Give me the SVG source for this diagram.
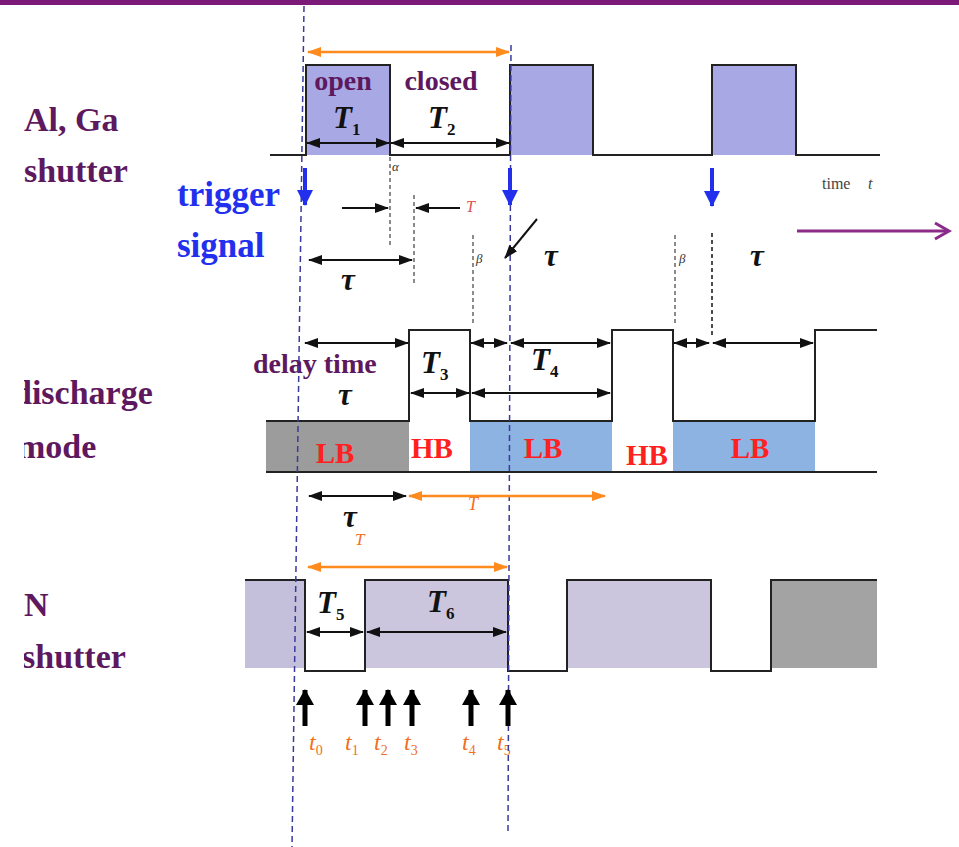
<svg xmlns="http://www.w3.org/2000/svg" width="959" height="847" viewBox="0 0 959 847">
<defs>
<style>
.lbl{font-family:"Liberation Serif","Times New Roman",serif;font-weight:bold;fill:#5E185E;font-size:34px}
.trg{font-family:"Liberation Serif","Times New Roman",serif;font-weight:bold;fill:#2230EE;font-size:35px}
.pt{font-family:"Liberation Serif","Times New Roman",serif;font-weight:bold;fill:#5E185E;font-size:28px}
.sym{font-family:"Liberation Serif","Times New Roman",serif;font-weight:bold;font-style:italic;fill:#111;font-size:31px}
.sub{font-style:normal;font-size:17px}
.band{font-family:"Liberation Serif","Times New Roman",serif;font-weight:bold;fill:#FF2020;font-size:29px}
.ot{font-family:"Liberation Serif","Times New Roman",serif;font-style:italic;fill:#F0701E;font-size:24px}
.gk{font-family:"Liberation Serif","Times New Roman",serif;font-style:italic;fill:#333;font-size:13px}
.wave{fill:none;stroke:#222;stroke-width:2}
.dar{stroke:#111;stroke-width:2;marker-start:url(#ah);marker-end:url(#ah)}
.sar{stroke:#111;stroke-width:2;marker-end:url(#ah)}
.oar{stroke:#FF8A1E;stroke-width:2.5;marker-start:url(#oh);marker-end:url(#oh)}
.bd{stroke:#3A3A9E;stroke-width:1.5;stroke-dasharray:6 4;fill:none}
.gd{stroke:#666;stroke-width:1.5;stroke-dasharray:4 3;fill:none}
.kd{stroke:#111;stroke-width:1.5;stroke-dasharray:4 3;fill:none}
.up{stroke:#000;stroke-width:5;marker-start:url(#uh)}
.dn{stroke:#2230EE;stroke-width:4;marker-end:url(#bh)}
</style>
<marker id="ah" viewBox="0 0 14 10" refX="13" refY="5" markerWidth="14" markerHeight="10" markerUnits="userSpaceOnUse" orient="auto-start-reverse"><path d="M0,0 L14,5 L0,10 Z" fill="#111"/></marker>
<marker id="oh" viewBox="0 0 14 10" refX="13" refY="5" markerWidth="14" markerHeight="10" markerUnits="userSpaceOnUse" orient="auto-start-reverse"><path d="M0,0 L14,5 L0,10 Z" fill="#FF8A1E"/></marker>
<marker id="bh" viewBox="0 0 16 16" refX="8" refY="15" markerWidth="16" markerHeight="16" markerUnits="userSpaceOnUse" orient="0"><path d="M0,0 L16,0 L8,16 Z" fill="#2230EE"/></marker>
<marker id="uh" viewBox="0 0 18 16" refX="9" refY="1" markerWidth="18" markerHeight="16" markerUnits="userSpaceOnUse" orient="0"><path d="M0,16 L9,0 L18,16 Z" fill="#000"/></marker>
<clipPath id="lc"><rect x="24" y="0" width="935" height="847"/></clipPath>
</defs>
<rect width="959" height="847" fill="#FFFFFF"/>
<rect x="0" y="0" width="959" height="5" fill="#7B1A78"/>

<g id="labels" clip-path="url(#lc)">
<text class="lbl" x="24" y="131">Al, Ga</text>
<text class="lbl" x="24" y="182">shutter</text>
<text class="trg" x="177" y="206">trigger</text>
<text class="trg" x="177" y="257">signal</text>
<text class="lbl" x="13" y="404">discharge</text>
<text class="lbl" x="17" y="458">mode</text>
<text class="lbl" x="24" y="616">N</text>
<text class="lbl" x="22" y="668">shutter</text>
</g>

<g id="algashutter">
<rect x="306" y="65" width="84" height="90" fill="#A8A8E4"/>
<rect x="510" y="65" width="83" height="90" fill="#A8A8E4"/>
<rect x="712" y="65" width="84" height="90" fill="#A8A8E4"/>
<path class="wave" d="M270,155 H306 V65 H390 V155 H510 V65 H593 V155 H712 V65 H796 V155 H880"/>
<text class="pt" x="343" y="90" text-anchor="middle">open</text>
<text class="pt" x="441" y="90" text-anchor="middle">closed</text>
<text class="sym" x="333" y="128">T<tspan class="sub" dy="7">1</tspan></text>
<text class="sym" x="428" y="128">T<tspan class="sub" dy="7">2</tspan></text>
<text class="gk" x="392" y="171">α</text>
<text x="822" y="189" font-family="Liberation Serif, serif" font-size="16" fill="#444">time</text>
<text x="868" y="189" font-family="Liberation Serif, serif" font-style="italic" font-size="16" fill="#444">t</text>
</g>

<g id="discharge">
<rect x="266" y="421" width="143" height="51" fill="#9C9C9C"/>
<rect x="470" y="421" width="142" height="51" fill="#8DB3E2"/>
<rect x="673" y="421" width="142" height="51" fill="#8DB3E2"/>
<path class="wave" d="M266,421 H409 V330 H470 V421 H612 V330 H673 V421 H815 V330 H877"/>
<path class="wave" d="M266,472 H877"/>
<text class="band" x="335" y="463" text-anchor="middle">LB</text>
<text class="band" x="432" y="458" text-anchor="middle">HB</text>
<text class="band" x="543" y="458" text-anchor="middle">LB</text>
<text class="band" x="647" y="465" text-anchor="middle">HB</text>
<text class="band" x="750" y="458" text-anchor="middle">LB</text>
<text class="pt" x="253" y="373">delay time</text>
<text class="sym" x="338" y="405">τ</text>
<text class="sym" x="421" y="373">T<tspan class="sub" dy="7">3</tspan></text>
<text class="sym" x="531" y="370">T<tspan class="sub" dy="7">4</tspan></text>
</g>

<g id="nshutter">
<rect x="245" y="580" width="60" height="88" fill="#C4BFDA"/>
<rect x="365" y="580" width="143" height="88" fill="#CBC6DE"/>
<rect x="567" y="580" width="144" height="88" fill="#CBC6DE"/>
<rect x="771" y="580" width="106" height="88" fill="#A3A3A3"/>
<path class="wave" d="M245,580 H305 V671 H365 V580 H508 V671 H567 V580 H711 V671 H771 V580 H877"/>
<text class="sym" x="317" y="613">T<tspan class="sub" dy="7">5</tspan></text>
<text class="sym" x="427" y="612">T<tspan class="sub" dy="7">6</tspan></text>
</g>

<g id="timestamps">
<text class="ot" x="309" y="750">t<tspan font-size="14" font-style="normal" dy="5">0</tspan></text>
<text class="ot" x="345" y="750">t<tspan font-size="14" font-style="normal" dy="5">1</tspan></text>
<text class="ot" x="374" y="750">t<tspan font-size="14" font-style="normal" dy="5">2</tspan></text>
<text class="ot" x="404" y="750">t<tspan font-size="14" font-style="normal" dy="5">3</tspan></text>
<text class="ot" x="462" y="750">t<tspan font-size="14" font-style="normal" dy="5">4</tspan></text>
<text class="ot" x="497" y="750">t<tspan font-size="14" font-style="normal" dy="5">5</tspan></text>
</g>

<g id="annotations">
<text x="466" y="212" font-family="Liberation Serif, serif" font-style="italic" font-size="16" fill="#E05050">T</text>
<text class="sym" x="341" y="290">τ</text>
<text class="gk" x="476" y="263">β</text>
<text class="gk" x="679" y="263">β</text>
<text class="sym" x="544" y="266">τ</text>
<text class="sym" x="750" y="266">τ</text>
<text x="468" y="510" font-family="Liberation Serif, serif" font-style="italic" font-size="18" fill="#F0701E">T</text>
<text class="sym" x="343" y="527">τ</text>
<text x="355" y="545" font-family="Liberation Serif, serif" font-style="italic" font-size="17" fill="#F0701E">T</text>
</g>

<g id="connectors">
<path class="bd" d="M304,6 L292,847"/>
<path class="bd" d="M511,45 L508,832"/>
<path class="gd" d="M390,157 V247"/>
<path class="gd" d="M414,195 V285"/>
<path class="gd" d="M473,235 V325"/>
<path class="gd" d="M675,235 V325"/>
<path class="kd" d="M712,233 V337"/>

<line class="oar" x1="308" y1="52" x2="509" y2="52"/>
<line class="dar" x1="307" y1="143" x2="389" y2="143"/>
<line class="dar" x1="391" y1="143" x2="509" y2="143"/>

<line class="dn" x1="305" y1="168" x2="305" y2="205"/>
<line class="dn" x1="510" y1="168" x2="510" y2="205"/>
<line class="dn" x1="712" y1="168" x2="712" y2="206"/>

<line class="sar" x1="342" y1="208" x2="388" y2="208"/>
<line class="sar" x1="460" y1="208" x2="416" y2="208"/>
<line class="dar" x1="309" y1="260" x2="412" y2="260"/>
<line class="sar" x1="537" y1="219" x2="505" y2="258"/>

<line x1="797" y1="231" x2="948" y2="231" stroke="#8A2B8A" stroke-width="3"/>
<path d="M935,223 L949,231 L935,239" fill="none" stroke="#8A2B8A" stroke-width="3"/>

<line class="dar" x1="305" y1="343" x2="408" y2="343"/>
<line class="dar" x1="471" y1="343" x2="507" y2="343"/>
<line class="dar" x1="511" y1="343" x2="610" y2="343"/>
<line class="dar" x1="674" y1="343" x2="709" y2="343"/>
<line class="dar" x1="713" y1="343" x2="813" y2="343"/>
<line class="dar" x1="411" y1="393" x2="469" y2="393"/>
<line class="dar" x1="472" y1="393" x2="610" y2="393"/>

<line class="dar" x1="309" y1="496" x2="406" y2="496"/>
<line class="oar" x1="409" y1="496" x2="605" y2="496"/>

<line class="oar" x1="308" y1="567" x2="507" y2="567"/>
<line class="dar" x1="307" y1="632" x2="363" y2="632"/>
<line class="dar" x1="367" y1="632" x2="506" y2="632"/>

<line class="up" x1="305" y1="690" x2="305" y2="726"/>
<line class="up" x1="365" y1="690" x2="365" y2="726"/>
<line class="up" x1="388" y1="690" x2="388" y2="726"/>
<line class="up" x1="412" y1="690" x2="412" y2="726"/>
<line class="up" x1="471" y1="690" x2="471" y2="726"/>
<line class="up" x1="508" y1="690" x2="508" y2="726"/>
</g>
</svg>
